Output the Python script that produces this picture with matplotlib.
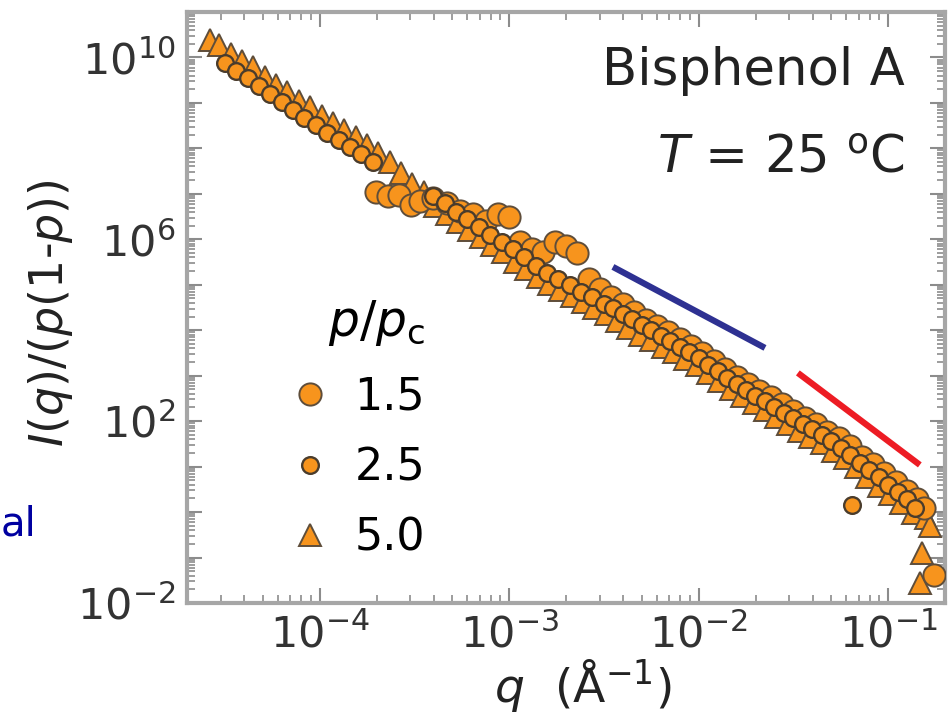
import numpy as np
import matplotlib.pyplot as plt
from matplotlib.ticker import FixedLocator, FuncFormatter, LogLocator, NullFormatter

# ---- data (log10 values) ----
# p/pc = 1.5  (big circles)
logq_15 = [-3.70, -3.64, -3.58, -3.52, -3.47, -3.40, -3.33, -3.26, -3.19, -3.12,
           -3.06, -3.00, -2.94, -2.88, -2.82, -2.76, -2.70, -2.64, -2.58, -2.52,
           -2.46, -2.40, -2.34, -2.28, -2.22, -2.16, -2.10, -2.04, -1.98, -1.92,
           -1.86, -1.80, -1.74, -1.68, -1.62, -1.56, -1.50, -1.44, -1.38, -1.32,
           -1.26, -1.20, -1.14, -1.08, -1.02, -0.96, -0.90, -0.85, -0.81, -0.76]
logI_15 = [7.05, 6.95, 6.98, 6.75, 6.85, 6.90, 6.80, 6.62, 6.55, 6.40,
           6.55, 6.48, 5.95, 5.78, 5.72, 5.95, 5.85, 5.70, 5.12, 4.90,
           4.72, 4.57, 4.40, 4.22, 4.09, 3.95, 3.80, 3.65, 3.49, 3.32,
           3.15, 2.97, 2.82, 2.67, 2.53, 2.37, 2.22, 2.07, 1.93, 1.77,
           1.62, 1.45, 1.22, 1.05, 0.85, 0.67, 0.47, 0.28, 0.10, -1.38]

# p/pc = 2.5  (small circles)
logq_25 = [-4.50, -4.44, -4.38, -4.32, -4.26, -4.20, -4.14, -4.08, -4.02, -3.96,
           -3.90, -3.84, -3.78, -3.72,
           -3.40, -3.34, -3.28, -3.22, -3.16, -3.10, -3.04, -2.98, -2.92, -2.86,
           -2.80, -2.74, -2.68, -2.62, -2.56, -2.50, -2.45, -2.40, -2.35, -2.30,
           -2.25, -2.20, -2.15, -2.10, -2.05, -2.00, -1.95, -1.90, -1.85, -1.80,
           -1.75, -1.70, -1.65, -1.60, -1.55, -1.50, -1.45, -1.40, -1.35, -1.30,
           -1.25, -1.20, -1.15, -1.10, -1.05, -1.00, -0.95, -0.90, -0.86, -1.19]
logI_25 = [9.88, 9.70, 9.55, 9.38, 9.19, 9.03, 8.85, 8.67, 8.51, 8.34,
           8.18, 8.03, 7.87, 7.69,
           6.95, 6.80, 6.60, 6.45, 6.28, 6.10, 5.95, 5.78, 5.60, 5.42,
           5.25, 5.12, 5.00, 4.85, 4.72, 4.58, 4.48, 4.36, 4.24, 4.12,
           4.00, 3.88, 3.76, 3.64, 3.52, 3.38, 3.24, 3.10, 2.95, 2.82,
           2.68, 2.56, 2.44, 2.32, 2.18, 2.06, 1.94, 1.82, 1.70, 1.56,
           1.42, 1.25, 1.08, 0.92, 0.78, 0.60, 0.45, 0.28, 0.10, 0.16]

# p/pc = 5.0  (triangles)
logq_50 = [-4.58, -4.53, -4.47, -4.41, -4.35, -4.29, -4.23, -4.17, -4.11, -4.05,
           -3.99, -3.93, -3.87, -3.81, -3.75, -3.69, -3.63, -3.57, -3.51, -3.45,
           -3.39, -3.33, -3.27, -3.21, -3.15, -3.09, -3.03, -2.97, -2.91, -2.85,
           -2.79, -2.73, -2.67, -2.61, -2.55, -2.49, -2.43, -2.37, -2.31, -2.25,
           -2.19, -2.13, -2.07, -2.01, -1.95, -1.89, -1.83, -1.77, -1.71, -1.65,
           -1.59, -1.53, -1.47, -1.41, -1.35, -1.29, -1.23, -1.17, -1.11, -1.05,
           -0.99, -0.93, -0.87, -0.80, -0.78, -0.82, -0.83]
logI_50 = [10.38, 10.28, 10.08, 9.92, 9.78, 9.58, 9.40, 9.25, 9.05, 8.90,
           8.72, 8.55, 8.40, 8.25, 8.08, 7.90, 7.70, 7.45, 7.22, 7.05,
           6.73, 6.55, 6.38, 6.21, 6.05, 5.88, 5.71, 5.51, 5.35, 5.18,
           5.01, 4.88, 4.75, 4.61, 4.48, 4.35, 4.21, 4.05, 3.90, 3.78,
           3.63, 3.51, 3.37, 3.23, 3.05, 2.88, 2.71, 2.55, 2.39, 2.25,
           2.09, 1.94, 1.79, 1.65, 1.51, 1.35, 1.19, 0.99, 0.78, 0.58,
           0.39, 0.19, -0.02, -0.12, -0.30, -0.90, -1.56]

# guide lines (end points)
blue_q = [3.53e-3, 2.24e-2]
blue_I = [2.47e5, 4.08e3]
red_q = [3.34e-2, 1.47e-1]
red_I = [1.15e3, 1.09e1]

orange = '#F7941D'
edge = '#5e4d3a'

fig = plt.figure(figsize=(9.5, 7.18), dpi=100)
ax = fig.add_axes([0.1968, 0.1602, 0.7979, 0.8231])

ax.plot(10 ** np.array(logq_50), 10 ** np.array(logI_50), '^', ms=16, mfc=orange,
        mec=edge, mew=1.4, ls='none', label='5.0', zorder=3)
ax.plot(10 ** np.array(logq_15), 10 ** np.array(logI_15), 'o', ms=16, mfc=orange,
        mec=edge, mew=1.4, ls='none', label='1.5', zorder=4)
ax.plot(10 ** np.array(logq_25), 10 ** np.array(logI_25), 'o', ms=12, mfc=orange,
        mec='#4a3c2c', mew=1.7, ls='none', label='2.5', zorder=5)

ax.plot(blue_q, blue_I, color='#2e3192', lw=4.5, solid_capstyle='butt', zorder=6)
ax.plot(red_q, red_I, color='#ed1c24', lw=4.5, solid_capstyle='butt', zorder=6)

ax.set_xscale('log')
ax.set_yscale('log')
ax.set_xlim(10 ** -4.7, 10 ** -0.7)
ax.set_ylim(1e-2, 1e11)

# ticks
ax.yaxis.set_major_locator(FixedLocator([10.0 ** k for k in range(-2, 12)]))
ax.yaxis.set_major_formatter(FuncFormatter(
    lambda v, pos: r'$10^{%d}$' % round(np.log10(v)) if round(np.log10(v)) in (-2, 2, 6, 10) else ''))
ax.yaxis.set_minor_locator(LogLocator(base=10, subs=np.arange(2, 10), numticks=100))
ax.yaxis.set_minor_formatter(NullFormatter())
ax.xaxis.set_major_locator(FixedLocator([1e-4, 1e-3, 1e-2, 1e-1]))
ax.xaxis.set_major_formatter(FuncFormatter(lambda v, pos: r'$10^{%d}$' % round(np.log10(v))))
ax.xaxis.set_minor_locator(LogLocator(base=10, subs=np.arange(2, 10), numticks=100))
ax.xaxis.set_minor_formatter(NullFormatter())

for s in ax.spines.values():
    s.set_color('#a6a6a6')
    s.set_linewidth(3)
ax.tick_params(which='both', direction='in', top=True, right=True, color='#8c8c8c')
ax.tick_params(which='major', length=11, width=1.5, labelsize=31, labelcolor='#333333', pad=8)
ax.tick_params(which='minor', length=6, width=1.2)

ax.set_xlabel(r'$q$  (Å$^{-1}$)', fontsize=34, color='#222222', va='baseline')
ax.xaxis.set_label_coords(0.522, -0.168)
ax.set_ylabel(r'$I$($q$)/($p$(1-$p$))', fontsize=33, color='#222222')
ax.yaxis.set_label_coords(-0.148, 0.49)

ax.text(0.947, 0.876, 'Bisphenol A', transform=ax.transAxes, ha='right',
        va='baseline', fontsize=37, color='#222222')
ax.text(0.947, 0.729, r'$T$ = 25 $^{\mathrm{o}}$C', transform=ax.transAxes, ha='right',
        va='baseline', fontsize=37, color='#222222')

h, l = ax.get_legend_handles_labels()
order = [l.index('1.5'), l.index('2.5'), l.index('5.0')]
leg = ax.legend([h[i] for i in order], [l[i] for i in order], title=r'$p/p_{\mathrm{c}}$',
                frameon=False, fontsize=32, title_fontsize=35, loc='upper left',
                bbox_to_anchor=(270 / 950, 1 - 276 / 718), bbox_transform=fig.transFigure,
                borderpad=0, handlelength=0.8, handletextpad=0.6, labelspacing=0.62,
                alignment='right')

fig.text(1 / 950, 1 - 535 / 718, 'al', ha='left', va='baseline', fontsize=29, color='#0000a0')

fig.savefig('out.png', dpi=100)
